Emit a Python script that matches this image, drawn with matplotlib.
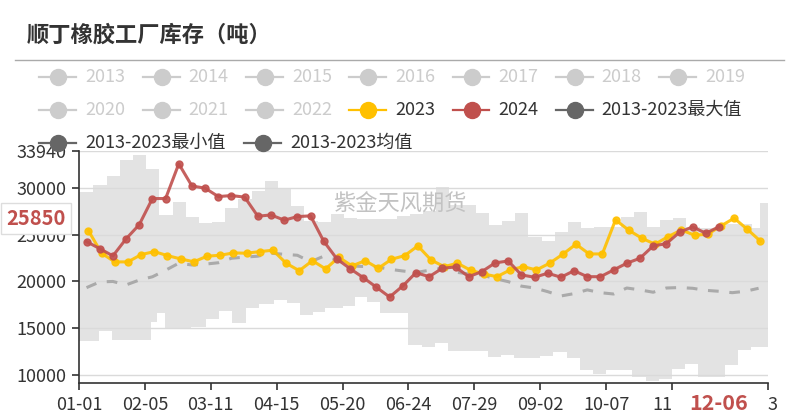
import numpy as np
import matplotlib.pyplot as plt
import matplotlib.transforms as mtransforms
from matplotlib.lines import Line2D

plt.rcParams['font.family'] = ['Noto Sans CJK SC', 'DejaVu Sans']

# x axis = day of year (01-01 -> 0), weekly observations
days_2023 = [5 + 7 * i for i in range(52)]
days_2024 = [4 + 7 * i for i in range(49)]
days_mean = [4 + 7 * i for i in range(52)]

v_2023 = [25430, 23020, 22090, 22090, 22870, 23190, 22760, 22410, 22100, 22700,
          22800, 23050, 23020, 23190, 23340, 21950, 21150, 22220, 21340, 22590,
          21660, 22220, 21410, 22370, 22760, 23800, 22300, 21580, 21950, 21200,
          20800, 20510, 21230, 21580, 21230, 21950, 22910, 23980, 22940, 22940,
          26580, 25480, 24620, 23980, 24800, 25500, 24940, 25050, 25930, 26760,
          25580, 24300]

v_2024 = [24260, 23510, 22730, 24550, 26070, 28860, 28860, 32570, 30200, 29970,
          29070, 29180, 29010, 26970, 27110, 26550, 26930, 27010, 24300, 22410,
          21370, 20410, 19380, 18340, 19520, 20940, 20510, 21410, 21550, 20510,
          21050, 21980, 22190, 20700, 20450, 20880, 20450, 21150, 20510, 20510,
          21230, 21950, 22480, 23800, 24040, 25260, 25830, 25150, 25850]

v_mean = [19340, 19950, 20000, 19630, 20150, 20500, 21200, 21950, 21760, 21850,
          22000, 22480, 22600, 22700, 23020, 22900, 22800, 22100, 22700, 22300,
          21660, 21600, 21580, 21300, 21120, 20950, 21200, 21410, 21000, 20800,
          20700, 20300, 19980, 19500, 19300, 18910, 18450, 18700, 19100, 18800,
          18660, 19300, 19100, 18850, 19300, 19350, 19270, 19050, 18950, 18800,
          18950, 19270]

# 2013-2023 max / min envelope (step breakpoints)
max_days = [0, 7.7, 14.7, 21.7, 28.7, 35.7, 42.7, 49.7, 56.7, 63.7, 70.7, 77.7,
            84.7, 91.7, 98.7, 105.7, 112.7, 119.7, 126.7, 133.7, 140.7, 147.7,
            154.7, 161.7, 168.7, 175.7, 182.7, 189.7, 196.7, 203.7, 210.7, 217.7,
            224.7, 231.7, 238.7, 245.7, 252.7, 259.7, 266.7, 273.7, 280.7, 287.7,
            294.7, 301.7, 308.7, 315.7, 322.7, 329.7, 336.7, 343.7, 350.7, 357.7,
            361.7]
v_max = [29600, 30300, 31300, 33000, 33550, 32000, 27100, 28500, 26900, 26250,
         26400, 27800, 28800, 29700, 30750, 29900, 28050, 26450, 26300, 27200,
         26800, 26700, 26700, 26700, 27000, 27200, 27500, 30100, 28200, 28200,
         27300, 26000, 26500, 27300, 24800, 24300, 25300, 26300, 25750, 25800,
         25800, 26900, 27450, 25850, 26580, 26760, 25860, 25700, 25700, 26150,
         26150, 25750, 28430]

min_days = [0, 10.5, 17.5, 38.5, 41.5, 45.5, 52.5, 59.5, 67.5, 74.5, 81.5, 88.5,
            95.5, 103.5, 110.5, 117.5, 124.5, 130.5, 140, 146.5, 153, 160, 175,
            182, 189, 196, 217, 224, 231, 245, 252, 259, 266, 273, 280, 294, 301,
            308, 315, 322, 329, 343, 350, 357]
v_min = [13640, 14700, 13740, 15700, 16650, 15060, 14920, 15140, 15960, 16850,
         15530, 17130, 17560, 18020, 17730, 16420, 16770, 17130, 17380, 18370,
         17770, 16660, 13200, 13030, 13390, 12570, 11960, 12140, 11850, 12030,
         12500, 11780, 10530, 10110, 10530, 9820, 9360, 9540, 10610, 11140,
         9820, 11070, 12670, 12960]

xtick_days = [0, 35, 70, 105, 140, 175, 210, 245, 280, 315, 366]
xtick_labels = ['01-01', '02-05', '03-11', '04-15', '05-20', '06-24', '07-29',
                '09-02', '10-07', '11', '3']
yticks = [10000, 15000, 20000, 25000, 30000, 33940]

legend_names = ['2013', '2014', '2015', '2016', '2017', '2018', '2019',
                '2020', '2021', '2022', '2023', '2024', '2013-2023最大值',
                '2013-2023最小值', '2013-2023均值']

C_2023 = '#ffc000'
C_2024 = '#c0504d'
C_BAND = '#e3e3e3'
C_MEAN = '#aaaaaa'
C_TEXT = '#333333'

W, H = 799, 420
fig = plt.figure(figsize=(W / 100, H / 100), dpi=100)
ax = fig.add_axes([79 / W, 1 - 383 / H, 689 / W, 232 / H])

X_END = 366
Y_MIN = 9150

# envelope: gray up to max, white below min
ax.fill_between(max_days + [X_END], v_max + [v_max[-1]], Y_MIN, step='post',
                color=C_BAND, lw=0, zorder=1)
ax.fill_between(min_days + [X_END], v_min + [v_min[-1]], Y_MIN, step='post',
                color='white', lw=0, zorder=1.1)

for yv in yticks:
    ax.axhline(yv, color='#dadada', lw=1, zorder=1.5)

ax.text(0.465, 0.77, '紫金天风期货', transform=ax.transAxes, fontsize=16,
        color='#c2c2c2', ha='center', va='center', zorder=1.6)

ax.plot(days_mean, v_mean, color=C_MEAN, lw=2.2, dashes=(3.5, 3.5), zorder=3)
ax.plot(days_2023, v_2023, color=C_2023, lw=2.2, marker='o', ms=5, alpha=0.9, zorder=4)
ax.plot(days_2024, v_2024, color=C_2024, lw=2.2, marker='o', ms=5, alpha=0.9, zorder=5)

ax.set_xlim(0, X_END)
ax.set_ylim(Y_MIN, yticks[-1])
ax.set_xticks(xtick_days)
ax.set_xticklabels(xtick_labels)
xlabels = ax.xaxis.get_ticklabels()
xlabels[-2].set_ha('right')
xlabels[-1].set_ha('left')
ax.set_yticks(yticks)
ax.tick_params(axis='both', colors=C_TEXT, labelsize=13, length=5, width=1.2)
ax.tick_params(axis='x', pad=4)
ax.tick_params(axis='y', pad=4)
for s in ['top', 'right']:
    ax.spines[s].set_visible(False)
for s in ['left', 'bottom']:
    ax.spines[s].set_color(C_TEXT)
    ax.spines[s].set_linewidth(1.2)

# title and separator
fig.text(27 / W, 1 - 35 / H, '顺丁橡胶工厂库存（吨）', fontsize=16, fontweight='bold',
         color=C_TEXT, va='center', ha='left')
fig.add_artist(Line2D([15 / W, 784 / W], [1 - 60 / H] * 2, color='#aaaaaa', lw=1))

# legend
leg_colors = ['#cccccc'] * 10 + [C_2023, C_2024, '#666666', '#666666', '#666666']
leg_text_colors = ['#cccccc'] * 10 + [C_TEXT] * 5
row_y = [77, 110, 143]
positions = []
for j in range(7):
    positions.append((58.3 + 103.3 * j, row_y[0]))
for j in range(6):
    positions.append((58.3 + 103.3 * j, row_y[1]))
positions += [(58.3, row_y[2]), (263.3, row_y[2])]
for name, col, tcol, (px, py) in zip(legend_names, leg_colors, leg_text_colors, positions):
    yy = 1 - py / H
    fig.add_artist(Line2D([(px - 19) / W, (px + 18) / W], [yy, yy], color=col, lw=1.6))
    fig.add_artist(Line2D([px / W], [yy], color=col, marker='o', ms=11.5, lw=0))
    fig.text((px + 27) / W, yy, name, fontsize=13, color=tcol, va='center', ha='left')

# axis pointer labels
trans = mtransforms.blended_transform_factory(fig.transFigure, ax.transData)
trans = mtransforms.offset_copy(trans, fig=fig, x=0, y=8, units='dots')
ax.text(36 / W, v_2024[-1], f'{v_2024[-1]}', transform=trans, fontsize=14.5,
        fontweight='bold', color=C_2024, ha='center', va='center', zorder=10,
        clip_on=False,
        bbox=dict(boxstyle='square,pad=0.25', fc='white', ec='#dddddd', lw=1))

tr2 = mtransforms.blended_transform_factory(ax.transData, fig.transFigure)
fig.text(days_2024[-1], 1 - 403 / H, '12-06', transform=tr2, fontsize=15.5,
         fontweight='bold', color=C_2024, ha='center', va='center', zorder=10)

fig.savefig('out.png', dpi=100)
